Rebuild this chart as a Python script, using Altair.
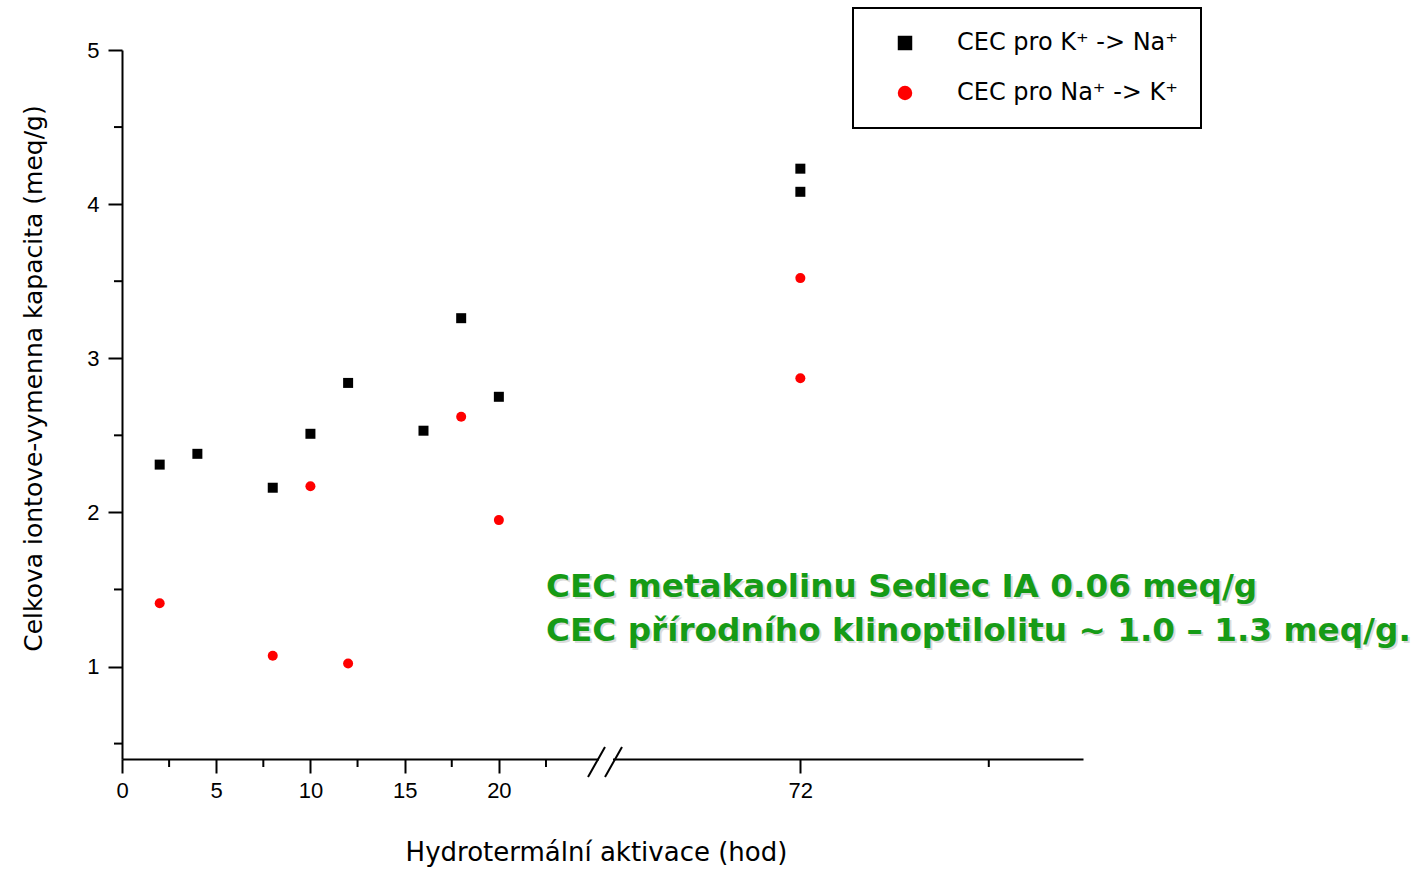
import altair as alt
import pandas as pd

# ---- data ----
hours_k = [2, 4, 8, 10, 12, 16, 18, 20, 72, 72]
cec_k = [2.31, 2.38, 2.16, 2.51, 2.84, 2.53, 3.26, 2.75, 4.23, 4.08]
hours_na = [2, 8, 10, 12, 18, 20, 72, 72]
cec_na = [1.41, 1.07, 2.17, 1.02, 2.62, 1.95, 3.52, 2.87]

series_k = "CEC pro K⁺ -> Na⁺"
series_na = "CEC pro Na⁺ -> K⁺"

x_major_hours = [0, 5, 10, 15, 20, 72]
x_minor_hours = [2.5, 7.5, 12.5, 17.5, 22.5, 82]
y_major = [1, 2, 3, 4, 5]
y_minor = [0.5, 1.5, 2.5, 3.5, 4.5]

note_lines = [
    "CEC metakaolinu Sedlec IA 0.06 meq/g",
    "CEC přírodního klinoptilolitu ~ 1.0 – 1.3 meq/g.",
]

BREAK_SHIFT = 36  # hours removed by the axis break (after 25 h)

df = pd.DataFrame(
    {
        "hours": hours_k + hours_na,
        "cec": cec_k + cec_na,
        "series": [series_k] * len(hours_k) + [series_na] * len(hours_na),
    }
)

xpos_expr = f"datum.hours <= 25 ? datum.hours : datum.hours - {BREAK_SHIFT}"
major_pos = [h if h <= 25 else h - BREAK_SHIFT for h in x_major_hours]

W, H = 961, 709
FONT = "DejaVu Sans"
NUMFONT = "Liberation Sans"

xscale = alt.Scale(domain=[0, 51], nice=False, zero=False)
yscale = alt.Scale(domain=[0.4, 5.0], nice=False, zero=False)

legend = alt.Legend(
    title=None,
    orient="none",
    legendX=731,
    legendY=-42,
    padding=23,
    symbolOffset=17,
    labelOffset=40,
    rowPadding=26,
    labelFont=FONT,
    labelFontSize=24,
    labelColor="black",
    symbolSize=210,
    symbolStrokeWidth=0,
    strokeColor="black",
    labelLimit=400,
)

points = (
    alt.Chart(df)
    .transform_calculate(xp=xpos_expr)
    .mark_point(filled=True, opacity=1, size=100)
    .encode(
        x=alt.X(
            "xp:Q",
            scale=xscale,
            axis=alt.Axis(
                values=major_pos,
                labelExpr=f"datum.value == {72 - BREAK_SHIFT} ? '72' : datum.label",
                labelFlush=False,
                title="Hydrotermální aktivace (hod)",
                titleX=474,
                titleY=93,
                titleBaseline="middle",
                titleFont=FONT,
                titleFontSize=26,
                titleFontWeight="normal",
                labelFont=NUMFONT,
                labelFontSize=22,
                labelPadding=7,
                tickSize=14,
                tickWidth=2,
                tickColor="black",
                domainColor="black",
                domainWidth=2,
                grid=False,
                labelColor="black",
                titleColor="black",
            ),
        ),
        y=alt.Y(
            "cec:Q",
            scale=yscale,
            axis=alt.Axis(
                values=y_major,
                format="d",
                labelFlush=False,
                title="Celkova iontove-vymenna kapacita (meq/g)",
                titleX=-89,
                titleY=328,
                titleAngle=270,
                titleBaseline="middle",
                titleAlign="center",
                titleFont=FONT,
                titleFontSize=25,
                titleFontWeight="normal",
                labelFont=NUMFONT,
                labelFontSize=22,
                labelPadding=9,
                tickSize=14,
                tickWidth=2,
                tickColor="black",
                domainColor="black",
                domainWidth=2,
                grid=False,
                labelColor="black",
                titleColor="black",
            ),
        ),
        shape=alt.Shape(
            "series:N",
            scale=alt.Scale(domain=[series_k, series_na], range=["square", "circle"]),
            legend=legend,
        ),
        color=alt.Color(
            "series:N",
            scale=alt.Scale(domain=[series_k, series_na], range=["black", "#ff0000"]),
            legend=legend,
        ),
    )
)

minor_x = (
    alt.Chart(pd.DataFrame({"hours": x_minor_hours}))
    .transform_calculate(xp=xpos_expr)
    .mark_rule(color="black", strokeWidth=2)
    .encode(x=alt.X("xp:Q", scale=xscale), y=alt.value(H), y2=alt.value(H + 8))
)

minor_y = (
    alt.Chart(pd.DataFrame({"v": y_minor}))
    .mark_rule(color="black", strokeWidth=2)
    .encode(y=alt.Y("v:Q", scale=yscale), x=alt.value(-8), x2=alt.value(0))
)

# axis break: white gap on the axis line and two slashes
gap = alt.Chart(pd.DataFrame({"a": [0]})).mark_rect(color="white").encode(
    x=alt.value(477), x2=alt.value(491), y=alt.value(H - 4), y2=alt.value(H + 4)
)
slash1 = alt.Chart(pd.DataFrame({"a": [0]})).mark_rule(color="black", strokeWidth=2).encode(
    x=alt.value(466), x2=alt.value(483), y=alt.value(H + 18), y2=alt.value(H - 12)
)
slash2 = alt.Chart(pd.DataFrame({"a": [0]})).mark_rule(color="black", strokeWidth=2).encode(
    x=alt.value(483), x2=alt.value(500), y=alt.value(H + 18), y2=alt.value(H - 12)
)

note_shadow = alt.Chart(pd.DataFrame({"a": [0]})).mark_text(
    text=note_lines,
    align="left",
    baseline="alphabetic",
    font=FONT,
    fontSize=32.7,
    fontWeight="bold",
    lineHeight=44,
    color="#999999",
    opacity=0.35,
).encode(x=alt.value(426), y=alt.value(549))

note = alt.Chart(pd.DataFrame({"a": [0]})).mark_text(
    text=note_lines,
    align="left",
    baseline="alphabetic",
    font=FONT,
    fontSize=32.7,
    fontWeight="bold",
    lineHeight=44,
    color="#169b16",
).encode(x=alt.value(424), y=alt.value(547))

chart = (
    alt.layer(minor_x, minor_y, gap, slash1, slash2, note_shadow, note, points)
    .properties(
        width=W,
        height=H,
        padding={"left": 122, "top": 50, "right": 338, "bottom": 110},
        autosize=alt.AutoSizeParams(type="none"),
        background="white",
    )
    .configure_view(stroke=None)
    .configure_legend(strokeColor="black", strokeWidth=2)
)

chart.save("out.html", embed_options={"renderer": "svg", "actions": False})
